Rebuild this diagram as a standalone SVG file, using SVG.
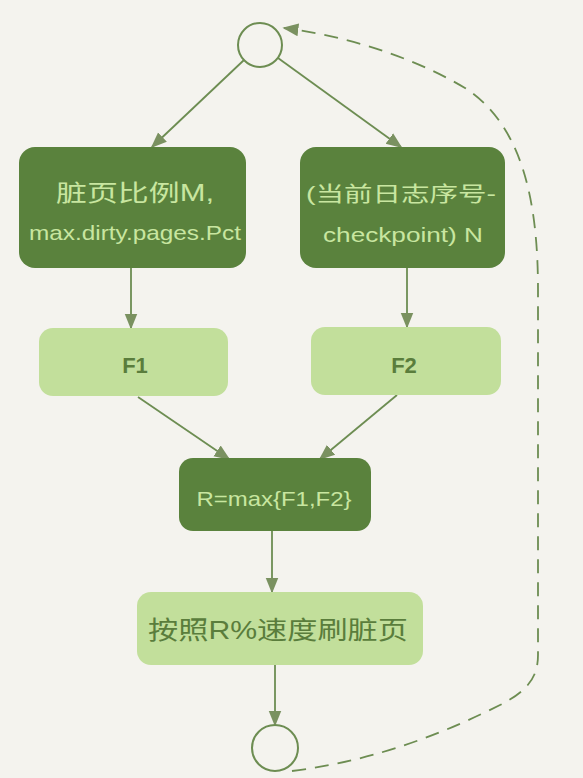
<svg xmlns="http://www.w3.org/2000/svg" width="583" height="778" viewBox="0 0 583 778">
<style>
.bg{fill:#f4f3ee}
.dark{fill:#5a823d}
.light{fill:#c2df9b}
.circ{fill:none;stroke:#6d8d52;stroke-width:2}
.ln{fill:none;stroke:#6d8d52;stroke-width:1.8}
.dash{fill:none;stroke:#6d8d52;stroke-width:1.8;stroke-dasharray:14 9}
.t{font-family:"Liberation Sans","Noto Sans CJK SC",sans-serif;text-anchor:middle;dominant-baseline:central}
.td{fill:#c8e6a0;font-size:21px}
.tl{fill:#5a7d3c;font-size:22px;font-weight:bold}
</style>
<defs>
<marker id="ahb" viewBox="0 0 10 10" refX="9" refY="5" markerWidth="16" markerHeight="16" markerUnits="userSpaceOnUse" orient="auto">
<path d="M0,1 L10,5 L0,9 z" fill="#7a9160"/>
</marker>
</defs>
<rect class="bg" x="0" y="0" width="583" height="778"/>
<g id="connectors">
<line class="ln" x1="244" y1="60" x2="152" y2="147" marker-end="url(#ahb)"/>
<line class="ln" x1="278" y1="58" x2="401" y2="147" marker-end="url(#ahb)"/>
<line class="ln" x1="131" y1="268" x2="131" y2="328" marker-end="url(#ahb)"/>
<line class="ln" x1="407" y1="268" x2="407" y2="327" marker-end="url(#ahb)"/>
<line class="ln" x1="138" y1="397" x2="229" y2="459" marker-end="url(#ahb)"/>
<line class="ln" x1="397" y1="395" x2="320" y2="459" marker-end="url(#ahb)"/>
<line class="ln" x1="272" y1="531" x2="272" y2="592" marker-end="url(#ahb)"/>
<line class="ln" x1="275" y1="665" x2="275" y2="725" marker-end="url(#ahb)"/>
<path class="dash" d="M292,771 C380,760 450,730 500,705 C530,690 538,675 538,655 L538,290 C538,200 522,125 465,88 C410,55 340,35 284,28" marker-end="url(#ahb)"/>
</g>
<g id="start"><circle class="circ" cx="260" cy="45" r="22"/></g>
<g id="n1">
<rect class="dark" x="19" y="147" width="227" height="121" rx="16"/>
<text class="t td" x="135" y="193" style="font-size:23px" textLength="158" lengthAdjust="spacingAndGlyphs">脏页比例M,</text>
<text class="t td" x="135" y="232" textLength="212" lengthAdjust="spacingAndGlyphs">max.dirty.pages.Pct</text>
</g>
<g id="n2">
<rect class="dark" x="300" y="147" width="205" height="121" rx="16"/>
<text class="t td" x="401" y="193" textLength="190" lengthAdjust="spacingAndGlyphs">(当前日志序号-</text>
<text class="t td" x="403" y="234" textLength="160" lengthAdjust="spacingAndGlyphs">checkpoint) N</text>
</g>
<g id="f1">
<rect class="light" x="39" y="328" width="189" height="68" rx="14"/>
<text class="t tl" x="135" y="365">F1</text>
</g>
<g id="f2">
<rect class="light" x="311" y="327" width="190" height="68" rx="14"/>
<text class="t tl" x="404" y="365">F2</text>
</g>
<g id="r">
<rect class="dark" x="179" y="458" width="192" height="73" rx="14"/>
<text class="t td" x="274" y="498" textLength="155" lengthAdjust="spacingAndGlyphs">R=max{F1,F2}</text>
</g>
<g id="flush">
<rect class="light" x="137" y="592" width="286" height="73" rx="14"/>
<text class="t" x="278" y="630" style="fill:#5a7d3c;font-size:25px" textLength="260" lengthAdjust="spacingAndGlyphs">按照R%速度刷脏页</text>
</g>
<g id="end"><circle class="circ" cx="275" cy="748" r="23"/></g>
</svg>
